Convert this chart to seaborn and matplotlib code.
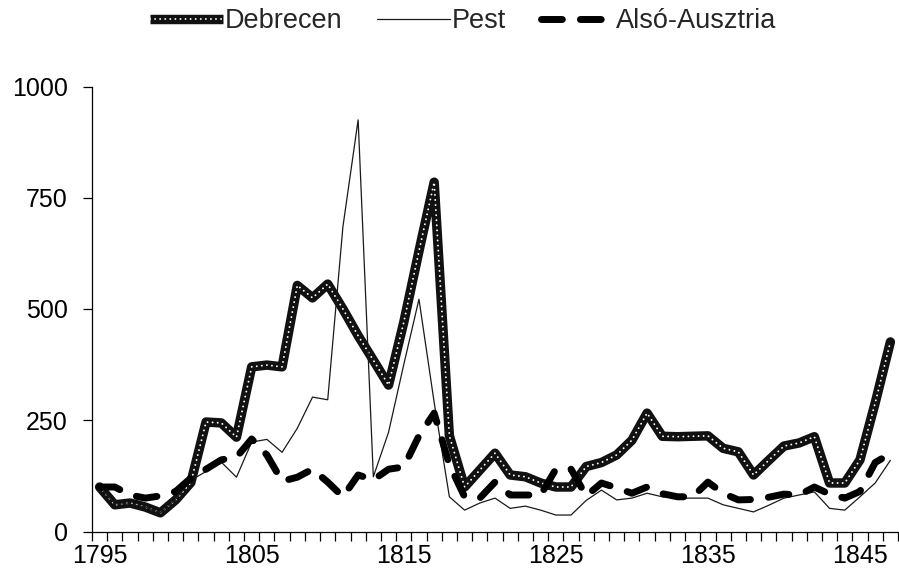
import numpy as np
import pandas as pd
import matplotlib
matplotlib.use("Agg")
import matplotlib.pyplot as plt
from matplotlib.lines import Line2D
from matplotlib.legend_handler import HandlerTuple
import seaborn as sns

years = list(range(1795, 1848))
debrecen = [100, 60, 64, 55, 42, 71, 110, 246, 244, 212,
            370, 374, 370, 553, 525, 556, 500, 440, 385, 329,
            470, 630, 785, 215, 100, 138, 176, 127, 123, 109,
            100, 100, 146, 155, 172, 205, 266, 214, 213, 214,
            215, 187, 179, 127, 160, 192, 199, 213, 109, 109,
            161, 289, 426]
pest = [100, 62, 62, 55, 42, 72, 115, 135, 156, 122,
        201, 207, 178, 232, 302, 296, 685, 925, 123, 223,
        375, 522, 290, 78, 48, 64, 75, 52, 57, 48,
        37, 37, 70, 93, 71, 75, 86, 78, 75, 75,
        75, 60, 52, 44, 59, 75, 82, 89, 52, 48,
        78, 109, 160]
also_ausztria = [100, 100, 82, 75, 80, 90, 120, 140, 161, 167,
                 208, 172, 113, 122, 140, 111, 78, 127, 116, 140,
                 145, 215, 266, 150, 78, 75, 111, 82, 82, 82,
                 140, 140, 80, 109, 98, 86, 100, 85, 78, 78,
                 111, 86, 71, 72, 77, 84, 82, 100, 84, 75,
                 90, 155, 175]
labels = ["Debrecen", "Pest", "Alsó-Ausztria"]

df = pd.DataFrame({"year": years, "Debrecen": debrecen, "Pest": pest,
                   "Alsó-Ausztria": also_ausztria})

sns.set_theme(style="white")
plt.rcParams["font.family"] = ["Liberation Sans", "DejaVu Sans"]

fig = plt.figure(figsize=(8.99, 5.81), dpi=100)
ax = fig.add_axes([92 / 899, 49.5 / 581, 806 / 899, 445 / 581])

# styles
deb_kw = dict(color="#111111", lw=6.8, solid_joinstyle="round")
dot_kw = dict(color="white", lw=1.4, linestyle=(0, (0.01, 2.6)), dash_capstyle="round")
pest_kw = dict(color="#1a1a1a", lw=0.9)
aa_kw = dict(color="black", lw=5, linestyle=(0, (3.0, 2.6)),
             dash_capstyle="round", dash_joinstyle="round")

# Debrecen: thick dark line with a row of white dots
sns.lineplot(data=df, x="year", y="Debrecen", ax=ax, solid_capstyle="round", **deb_kw)
sns.lineplot(data=df, x="year", y="Debrecen", ax=ax, **dot_kw)
sns.lineplot(data=df, x="year", y="Pest", ax=ax, **pest_kw)
sns.lineplot(data=df, x="year", y="Alsó-Ausztria", ax=ax, **aa_kw)

ax.set_xlim(1794.5, 1847.5)
ax.set_ylim(0, 1000)
ax.set_xticks(range(1795, 1848, 10))
ax.set_xticks(np.arange(1794.5, 1848, 1), minor=True)
ax.set_yticks([0, 250, 500, 750, 1000])
ax.set_xlabel("")
ax.set_ylabel("")

for s in ["top", "right"]:
    ax.spines[s].set_visible(False)
for s in ["left", "bottom"]:
    ax.spines[s].set_color("black")
    ax.spines[s].set_linewidth(0.9)

ax.tick_params(axis="x", which="major", length=0, pad=9, labelsize=18, colors="black")
ax.tick_params(axis="x", which="minor", length=6.5, width=0.9, direction="out",
               color="black", bottom=True)
ax.tick_params(axis="y", length=6.5, width=0.9, direction="out", pad=11,
               labelsize=18, colors="black", left=True)

# legend proxies
h_deb = (Line2D([], [], solid_capstyle="butt", **deb_kw), Line2D([], [], **dot_kw))
h_pest = Line2D([], [], **pest_kw)
h_aa = Line2D([], [], **aa_kw)

fig.legend([h_deb, h_pest, h_aa], labels,
           handler_map={tuple: HandlerTuple(ndivide=1)},
           loc="center", bbox_to_anchor=(463 / 899, 1 - 21 / 581), ncol=3,
           frameon=False, fontsize=19.5, handlelength=2.7, handletextpad=0.05,
           columnspacing=1.3)

fig.savefig("out.png", dpi=100)
